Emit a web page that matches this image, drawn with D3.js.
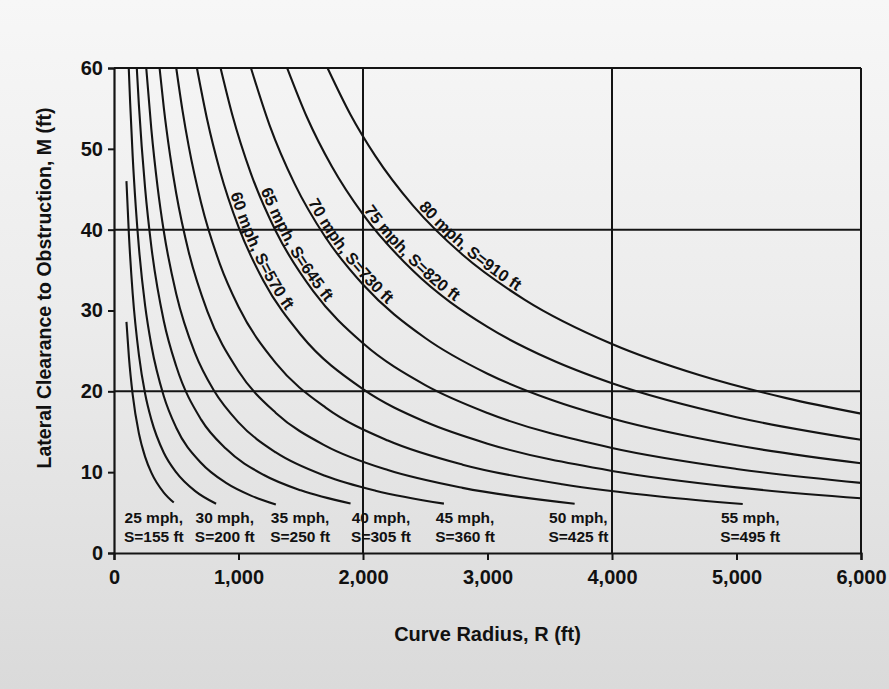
<!DOCTYPE html>
<html><head><meta charset="utf-8">
<script src="https://cdn.jsdelivr.net/npm/d3@7/dist/d3.min.js"></script>
<style>
html,body{margin:0;padding:0;background:#e8e8e8;}
svg{display:block;}
text{font-family:"Liberation Sans",Arial,sans-serif;font-weight:bold;fill:#111;}
</style>
</head><body>
<svg id="chart" width="889" height="689"></svg>
<script>
// ---------------- DATA ----------------
const speeds = [25, 30, 35, 40, 45, 50, 55, 60, 65, 70, 75, 80];           // mph
const sightDistances = [155, 200, 250, 305, 360, 425, 495, 570, 645, 730, 820, 910]; // ft
const xTicks = [0, 1000, 2000, 3000, 4000, 5000, 6000];
const yTicks = [0, 10, 20, 30, 40, 50, 60];
const xTitle = "Curve Radius, R (ft)";
const yTitle = "Lateral Clearance to Obstruction, M (ft)";

// curve radius R (ft) and lateral clearance M (ft)
const r25 = [100, 120, 150, 200, 250, 300, 400, 480];
const m25 = [28.6, 24.2, 19.6, 14.8, 11.9, 9.95, 7.48, 6.25];
const r30 = [100, 120, 150, 200, 250, 300, 400, 500, 650, 820];
const m30 = [46.0, 39.3, 32.1, 24.5, 19.7, 16.5, 12.4, 9.97, 7.68, 6.09];
const r35 = [118.5, 130, 150, 175, 200, 250, 300, 400, 500, 700, 900, 1100, 1300];
const m35 = [60, 55.6, 49.1, 42.8, 37.8, 30.6, 25.7, 19.4, 15.5, 11.13, 8.67, 7.10, 6.0];
const r40 = [183, 200, 250, 300, 400, 500, 700, 900, 1200, 1500, 1900];
const m40 = [60, 55.4, 45.1, 37.9, 28.7, 23.1, 16.5, 12.89, 9.68, 7.75, 6.12];
const r45 = [259, 300, 350, 400, 500, 650, 800, 1000, 1300, 1700, 2100, 2650];
const m45 = [60, 52.4, 45.3, 39.8, 32.05, 24.76, 20.16, 16.16, 12.44, 9.52, 7.71, 6.11];
const r50 = [366, 400, 450, 500, 600, 750, 1000, 1300, 1700, 2200, 2800, 3700];
const m50 = [60, 55.1, 49.25, 44.48, 37.25, 29.9, 22.49, 17.33, 13.26, 10.26, 8.06, 6.10];
const r55 = [500, 550, 600, 700, 850, 1000, 1300, 1700, 2200, 2800, 3600, 4400, 5050];
const m55 = [60, 54.76, 50.33, 43.3, 35.78, 30.47, 23.49, 17.99, 13.91, 10.93, 8.51, 6.96, 6.06];
const r60 = [666, 750, 850, 1000, 1200, 1500, 2000, 2500, 3000, 4000, 5000, 6000];
const m60 = [60, 53.5, 47.33, 40.34, 33.69, 27.0, 20.27, 16.23, 13.53, 10.15, 8.12, 6.77];
const r65 = [856, 950, 1100, 1300, 1600, 2000, 2500, 3000, 4000, 5000, 6000];
const m65 = [60, 54.22, 46.94, 39.8, 32.39, 25.94, 20.77, 17.32, 12.99, 10.40, 8.67];
const r70 = [1100, 1250, 1450, 1700, 2000, 2500, 3000, 3500, 4000, 5000, 6000];
const m70 = [60, 52.91, 45.7, 39.03, 33.21, 26.6, 22.18, 19.02, 16.64, 13.32, 11.10];
const r75 = [1391, 1550, 1750, 2000, 2400, 3000, 3500, 4000, 5000, 6000];
const m75 = [60, 53.91, 47.81, 41.88, 34.94, 27.97, 23.99, 20.99, 16.80, 14.00];
const r80 = [1715, 1900, 2100, 2400, 2800, 3300, 4000, 4700, 5400, 6000];
const m80 = [60, 54.22, 49.1, 43.0, 36.89, 31.32, 25.85, 22.01, 19.16, 17.24];

const radii = [r25, r30, r35, r40, r45, r50, r55, r60, r65, r70, r75, r80];
const clearances = [m25, m30, m35, m40, m45, m50, m55, m60, m65, m70, m75, m80];

// ---------------- LAYOUT ----------------
const W = 889, H = 689;
const plotLeft = 114, plotRight = 861, plotTop = 68, plotBottom = 553;
// label anchors (curve radius in ft) – placement only
const bottomLabelAt = {25: 320, 30: 890, 35: 1495, 40: 2145, 45: 2820, 50: 3730, 55: 5110};
const alongLabelAt = {60: 910, 65: 1155, 70: 1535, 75: 1985, 80: 2425};

const svg = d3.select("#chart");
const defs = svg.append("defs");
const grad = defs.append("linearGradient").attr("id", "bg").attr("x1", 0).attr("y1", 0).attr("x2", 0).attr("y2", 1);
grad.append("stop").attr("offset", "0%").attr("stop-color", "#f7f7f7");
grad.append("stop").attr("offset", "45%").attr("stop-color", "#ececec");
grad.append("stop").attr("offset", "100%").attr("stop-color", "#dadada");
svg.append("rect").attr("width", W).attr("height", H).attr("fill", "url(#bg)");

const x = d3.scaleLinear().domain([0, 6000]).range([plotLeft, plotRight]);
const y = d3.scaleLinear().domain([0, 60]).range([plotBottom, plotTop]);

const ink = "#141414";

// grid lines and frame
const g = svg.append("g");
[20, 40, 60].forEach(v => g.append("line")
  .attr("x1", x(0)).attr("x2", x(6000)).attr("y1", y(v)).attr("y2", y(v))
  .attr("stroke", ink).attr("stroke-width", 2));
[2000, 4000, 6000].forEach(v => g.append("line")
  .attr("x1", x(v)).attr("x2", x(v)).attr("y1", y(0)).attr("y2", y(60))
  .attr("stroke", ink).attr("stroke-width", 2));

// axes
const xAxis = d3.axisBottom(x).tickValues(xTicks).tickFormat(d3.format(",")).tickSize(7).tickPadding(10);
const yAxis = d3.axisLeft(y).tickValues(yTicks).tickFormat(d3.format("d")).tickSize(6).tickPadding(5);
const gx = svg.append("g").attr("transform", `translate(0,${plotBottom})`).call(xAxis);
const gy = svg.append("g").attr("transform", `translate(${plotLeft},0)`).call(yAxis);
[gx, gy].forEach(a => {
  a.select(".domain").attr("stroke", ink).attr("stroke-width", 2.2);
  a.selectAll(".tick line").attr("stroke", ink).attr("stroke-width", 2);
  a.selectAll(".tick text").style("font-size", "20px").style("font-family", "'Liberation Sans',Arial,sans-serif")
    .style("font-weight", "bold").attr("fill", ink);
});

// curves
const line = d3.line().x(d => x(d[0])).y(d => y(d[1])).curve(d3.curveMonotoneX);
const paths = [];
speeds.forEach((s, i) => {
  const pts = radii[i].map((r, j) => [r, clearances[i][j]]);
  const p = svg.append("path").attr("id", "curve" + s).attr("d", line(pts))
    .attr("fill", "none").attr("stroke", ink).attr("stroke-width", 2.1);
  paths.push(p);
});

// bottom two-line labels
speeds.forEach((s, i) => {
  if (!(s in bottomLabelAt)) return;
  const cx = x(bottomLabelAt[s]);
  const t = svg.append("text").attr("text-anchor", "middle").style("font-size", "15.5px");
  t.append("tspan").attr("x", cx).attr("y", 523).text(`${s} mph,`);
  t.append("tspan").attr("x", cx).attr("y", 542).text(`S=${sightDistances[i]} ft`);
});

// labels along curves
speeds.forEach((s, i) => {
  if (!(s in alongLabelAt)) return;
  const node = paths[i].node();
  const total = node.getTotalLength();
  const tx = x(alongLabelAt[s]);
  let lo = 0, hi = total;
  for (let k = 0; k < 40; k++) {
    const mid = (lo + hi) / 2;
    if (node.getPointAtLength(mid).x < tx) lo = mid; else hi = mid;
  }
  svg.append("text").attr("dy", -3).style("font-size", "16.5px")
    .append("textPath").attr("href", "#curve" + s).attr("startOffset", lo)
    .text(`${s} mph, S=${sightDistances[i]} ft`);
});

// axis titles
svg.append("text").attr("x", (plotLeft + plotRight) / 2).attr("y", 641).attr("text-anchor", "middle")
  .style("font-size", "20px").text(xTitle);
svg.append("text").attr("transform", `translate(51,288) rotate(-90)`).attr("text-anchor", "middle")
  .style("font-size", "19.5px").text(yTitle);
</script>
</body></html>
